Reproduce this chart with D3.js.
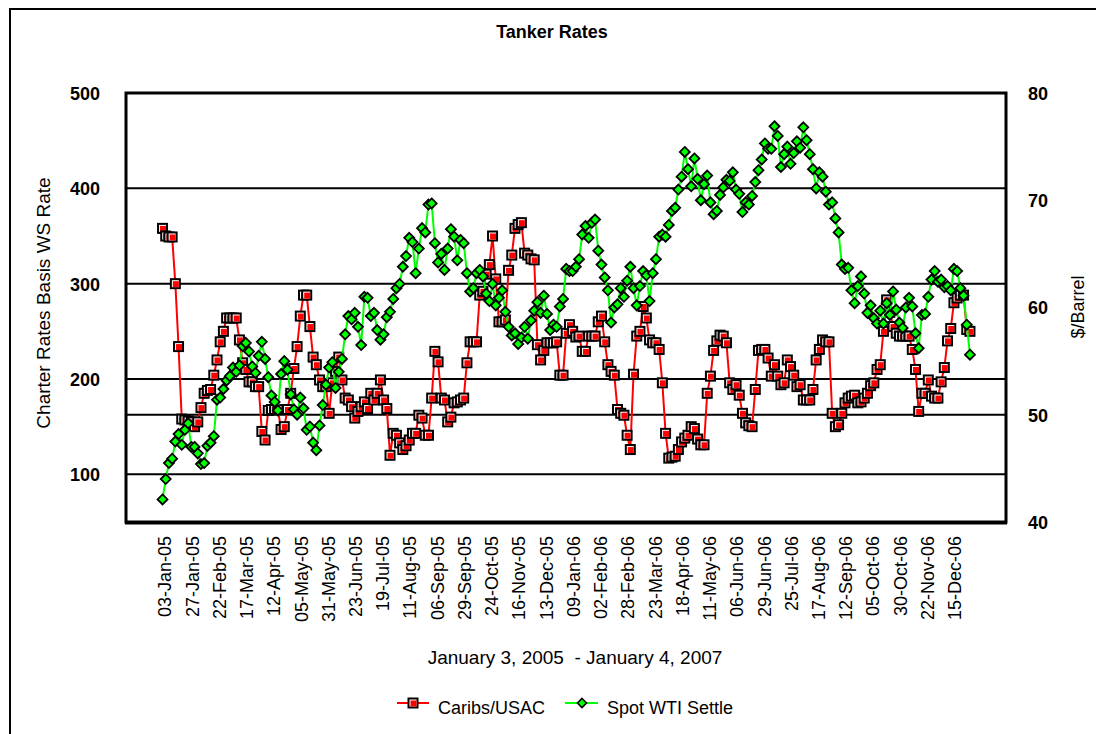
<!DOCTYPE html>
<html><head><meta charset="utf-8">
<script src="https://cdn.jsdelivr.net/npm/d3@7"></script>
<style>body{margin:0;background:#fff;overflow:hidden}svg{display:block}</style>
</head><body>
<svg id="c" width="1096" height="734"></svg>
<script>
// ---- data ----
const tickLabels = ["03-Jan-05","27-Jan-05","22-Feb-05","17-Mar-05","12-Apr-05","05-May-05","31-May-05","23-Jun-05","19-Jul-05","11-Aug-05","06-Sep-05","29-Sep-05","24-Oct-05","16-Nov-05","13-Dec-05","09-Jan-06","02-Feb-06","28-Feb-06","23-Mar-06","18-Apr-06","11-May-06","06-Jun-06","29-Jun-06","25-Jul-06","17-Aug-06","12-Sep-06","05-Oct-06","30-Oct-06","22-Nov-06","15-Dec-06"];
const TICK_EVERY = 17;   // trading days between category labels
const DAY_STEP = 2;      // trading days between stored observations
const leftTicks = [100,200,300,400,500];
const rightTicks = [40,50,60,70,80];
const leftGrid = [100,200,300,400];
const rightGrid = [50];
const seriesNames = ["Caribs/USAC","Spot WTI Settle"];

const caribsUSAC = [
358,350,349,349,300,234,158,157,156,155,
150,155,170,185,188,189,204,220,239,250,
264,264,264,264,241,217,210,197,197,192,
192,145,136,167,168,168,168,147,150,168,
185,211,234,266,288,288,255,223,215,199,
192,192,164,196,208,223,199,180,178,171,
159,166,171,176,169,185,178,185,199,178,
169,120,143,141,133,126,130,136,143,143,
162,159,141,141,180,229,218,180,178,155,
160,175,176,178,180,217,239,239,239,288,
292,310,320,350,305,260,260,262,314,330,
358,362,364,332,330,326,325,236,220,230,
238,238,238,239,204,204,248,257,250,244,
245,229,229,245,245,245,260,266,239,215,
208,204,168,164,162,141,126,205,245,250,
276,264,241,238,238,231,196,143,117,118,
119,126,134,138,141,150,148,137,131,131,
185,203,230,240,246,245,238,196,189,194,
183,164,154,151,150,189,230,231,231,222,
203,215,203,194,196,220,213,204,192,194,
178,178,178,189,220,231,241,239,239,164,
150,152,164,175,180,182,183,175,176,180,
185,193,196,210,215,250,283,270,255,248,
245,245,245,245,231,210,166,185,185,199,
182,180,180,197,212,240,253,280,285,288,
288,252,250];

const spotWTI = [
42.1,44.0,45.5,45.9,47.5,48.2,47.2,48.6,49.2,47.0,
47.0,46.4,45.4,45.5,47.1,47.4,48.0,51.4,51.6,52.4,
53.2,53.6,54.4,54.0,54.6,56.4,56.7,55.9,54.5,53.9,
55.5,56.8,55.2,53.5,51.8,51.2,50.4,53.8,55.0,54.2,
51.9,50.5,50.0,51.6,50.6,48.6,48.9,47.4,46.7,49.0,
50.9,52.8,54.4,54.9,52.5,54.0,55.2,57.5,59.2,58.9,
59.5,58.2,56.5,61.0,60.9,59.2,59.5,57.9,57.0,57.5,
59.1,59.6,60.8,61.8,62.2,63.8,64.8,66.5,66.1,63.2,
65.5,67.4,67.0,69.6,69.7,66.0,64.2,65.0,63.5,65.5,
67.3,66.6,64.4,66.3,66.0,63.2,61.5,61.8,63.2,63.5,
62.9,61.3,60.6,62.2,60.2,60.9,61.6,59.6,58.2,57.4,
57.6,56.6,57.2,58.2,57.1,58.8,59.7,60.5,59.5,61.1,
59.4,57.9,58.4,58.2,60.1,60.8,63.6,63.4,63.4,63.8,
64.5,66.8,67.6,66.5,67.9,68.2,65.3,64.0,62.8,61.6,
58.6,60.0,60.3,61.8,61.0,62.5,63.8,61.8,60.2,62.0,
63.4,63.0,60.6,63.2,64.5,66.6,66.8,66.6,67.7,69.0,
69.3,71.0,72.2,74.5,72.9,71.3,73.9,72.0,70.0,71.5,
72.3,69.8,68.7,69.0,70.5,71.2,71.9,71.8,72.6,71.0,
70.6,68.9,69.8,69.6,70.4,71.7,72.8,73.8,75.3,74.8,
74.8,76.9,76.0,73.1,74.3,75.0,73.4,74.4,75.5,74.9,
76.8,75.6,74.3,72.9,71.1,72.6,72.2,70.8,69.6,69.8,
68.3,67.0,64.0,63.6,63.7,61.6,60.4,62.0,62.9,61.3,
59.5,60.2,59.0,58.5,59.7,58.5,60.4,59.3,61.5,59.8,
58.6,58.1,60.0,60.9,60.1,57.6,56.2,59.3,59.4,61.0,
62.6,63.4,62.4,62.6,61.9,62.0,61.6,63.6,63.4,61.8,
61.1,58.4,55.6];

// ---- layout ----
const FONT = "Arial, 'Liberation Sans', Helvetica, sans-serif";
const P = {left:126, right:1006, top:93, bottom:522};
const svg = d3.select("#c");

const x = d3.scaleLinear().domain([-22.8, 526.5]).range([P.left, P.right]);
const yL = d3.scaleLinear().domain([50, 500]).range([P.bottom, P.top]);
const yR = d3.scaleLinear().domain([40, 80]).range([P.bottom, P.top]);

// outer chart border
svg.append("rect").attr("x",10).attr("y",9).attr("width",1200).attr("height",800)
  .attr("fill","#fff").attr("stroke","#000").attr("stroke-width",2);

// title
svg.append("text").attr("x",552).attr("y",38).attr("text-anchor","middle")
  .attr("font-family",FONT).attr("font-weight","bold").attr("font-size",18).text("Tanker Rates");

// gridlines
const g = svg.append("g");
g.selectAll("line.gl").data(leftGrid).join("line")
  .attr("x1",P.left).attr("x2",P.right).attr("y1",d=>yL(d)).attr("y2",d=>yL(d))
  .attr("stroke","#000").attr("stroke-width",2);
g.selectAll("line.gr").data(rightGrid).join("line")
  .attr("x1",P.left).attr("x2",P.right).attr("y1",d=>yR(d)).attr("y2",d=>yR(d))
  .attr("stroke","#000").attr("stroke-width",2);

// left axis (labels only)
const axL = d3.axisLeft(yL).tickValues(leftTicks).tickSize(0).tickPadding(0);
const gL = svg.append("g").attr("transform",`translate(${P.left-26},0)`).call(axL);
gL.select(".domain").remove();
gL.selectAll("text").attr("font-family",FONT).attr("font-weight","bold").attr("font-size",18).attr("fill","#000").attr("dy","0.36em");

const axR = d3.axisRight(yR).tickValues(rightTicks).tickSize(0).tickPadding(0);
const gR = svg.append("g").attr("transform",`translate(${P.right+22},0)`).call(axR);
gR.select(".domain").remove();
gR.selectAll("text").attr("font-family",FONT).attr("font-weight","bold").attr("font-size",18).attr("fill","#000").attr("dy","0.36em");

// axis titles
svg.append("text").attr("transform",`translate(50,303) rotate(-90)`).attr("text-anchor","middle")
  .attr("font-family",FONT).attr("font-size",19).text("Charter Rates Basis WS Rate");
svg.append("text").attr("transform",`translate(1084,307) rotate(-90)`).attr("text-anchor","middle")
  .attr("font-family",FONT).attr("font-size",18).text("$/Barrel");

// category labels
const axB = d3.axisBottom(x).tickValues(tickLabels.map((_,k)=>k*TICK_EVERY))
  .tickFormat((d,k)=>tickLabels[k]).tickSize(0).tickPadding(0);
const gB = svg.append("g").attr("transform",`translate(0,${P.bottom})`).call(axB);
gB.select(".domain").remove();
gB.selectAll("text").attr("font-family",FONT).attr("font-size",18).attr("fill","#000")
  .attr("text-anchor","end").attr("transform","translate(2,14) rotate(-90)").attr("dy","0.35em").attr("y",0);

// subtitle
svg.append("text").attr("x",575).attr("y",664).attr("text-anchor","middle")
  .attr("font-family",FONT).attr("font-size",19).attr("xml:space","preserve")
  .style("white-space","pre").text("January 3, 2005  - January 4, 2007");

// series
const redData = caribsUSAC.map((v,k)=>({i:k*DAY_STEP, v}));
const greenData = spotWTI.map((v,k)=>({i:k*DAY_STEP, v}));

const plot = svg.append("g");
plot.append("path").datum(redData)
  .attr("d", d3.line().x(d=>x(d.i)).y(d=>yL(d.v)))
  .attr("fill","none").attr("stroke","#ff0000").attr("stroke-width",2);

function redMarker(sel){
  sel.append("rect").attr("x",-5.5).attr("y",-5.5).attr("width",11).attr("height",11).attr("fill","#000");
  sel.append("rect").attr("x",-3.5).attr("y",-3.5).attr("width",7).attr("height",7).attr("fill","#fff");
  sel.append("rect").attr("x",-2.5).attr("y",-2.5).attr("width",6).attr("height",6).attr("fill","#ff0000");
}
plot.selectAll("g.rm").data(redData).join("g").attr("class","rm")
  .attr("transform",d=>`translate(${x(d.i)},${yL(d.v)})`).call(redMarker);

plot.append("path").datum(greenData)
  .attr("d", d3.line().x(d=>x(d.i)).y(d=>yR(d.v)))
  .attr("fill","none").attr("stroke","#00ff00").attr("stroke-width",2);

const dia = "M0,-5L5,0L0,5L-5,0Z";
plot.selectAll("path.gm").data(greenData).join("path").attr("class","gm")
  .attr("d",dia).attr("transform",d=>`translate(${x(d.i)},${yR(d.v)})`)
  .attr("fill","#00ff00").attr("stroke","#000").attr("stroke-width",1.8);

// plot frame
svg.append("rect").attr("x",P.left).attr("y",P.top).attr("width",P.right-P.left).attr("height",P.bottom-P.top)
  .attr("fill","none").attr("stroke","#000").attr("stroke-width",3);
svg.append("line").attr("x1",P.left-1).attr("x2",P.right+1).attr("y1",P.bottom+1).attr("y2",P.bottom+1)
  .attr("stroke","#000").attr("stroke-width",3);

// legend
const lg = svg.append("g");
lg.append("line").attr("x1",397).attr("x2",429).attr("y1",703).attr("y2",703).attr("stroke","#ff0000").attr("stroke-width",2);
lg.append("g").attr("transform","translate(413,703)").call(redMarker);
lg.append("text").attr("x",438).attr("y",714).attr("font-family",FONT).attr("font-size",18).text(seriesNames[0]);
lg.append("line").attr("x1",565).attr("x2",598).attr("y1",703).attr("y2",703).attr("stroke","#00ff00").attr("stroke-width",2);
lg.append("path").attr("d","M0,-4.5L4.5,0L0,4.5L-4.5,0Z").attr("transform","translate(582,703)").attr("fill","#00ff00").attr("stroke","#000").attr("stroke-width",1.6);
lg.append("text").attr("x",607).attr("y",714).attr("font-family",FONT).attr("font-size",18).text(seriesNames[1]);
</script>
</body></html>
